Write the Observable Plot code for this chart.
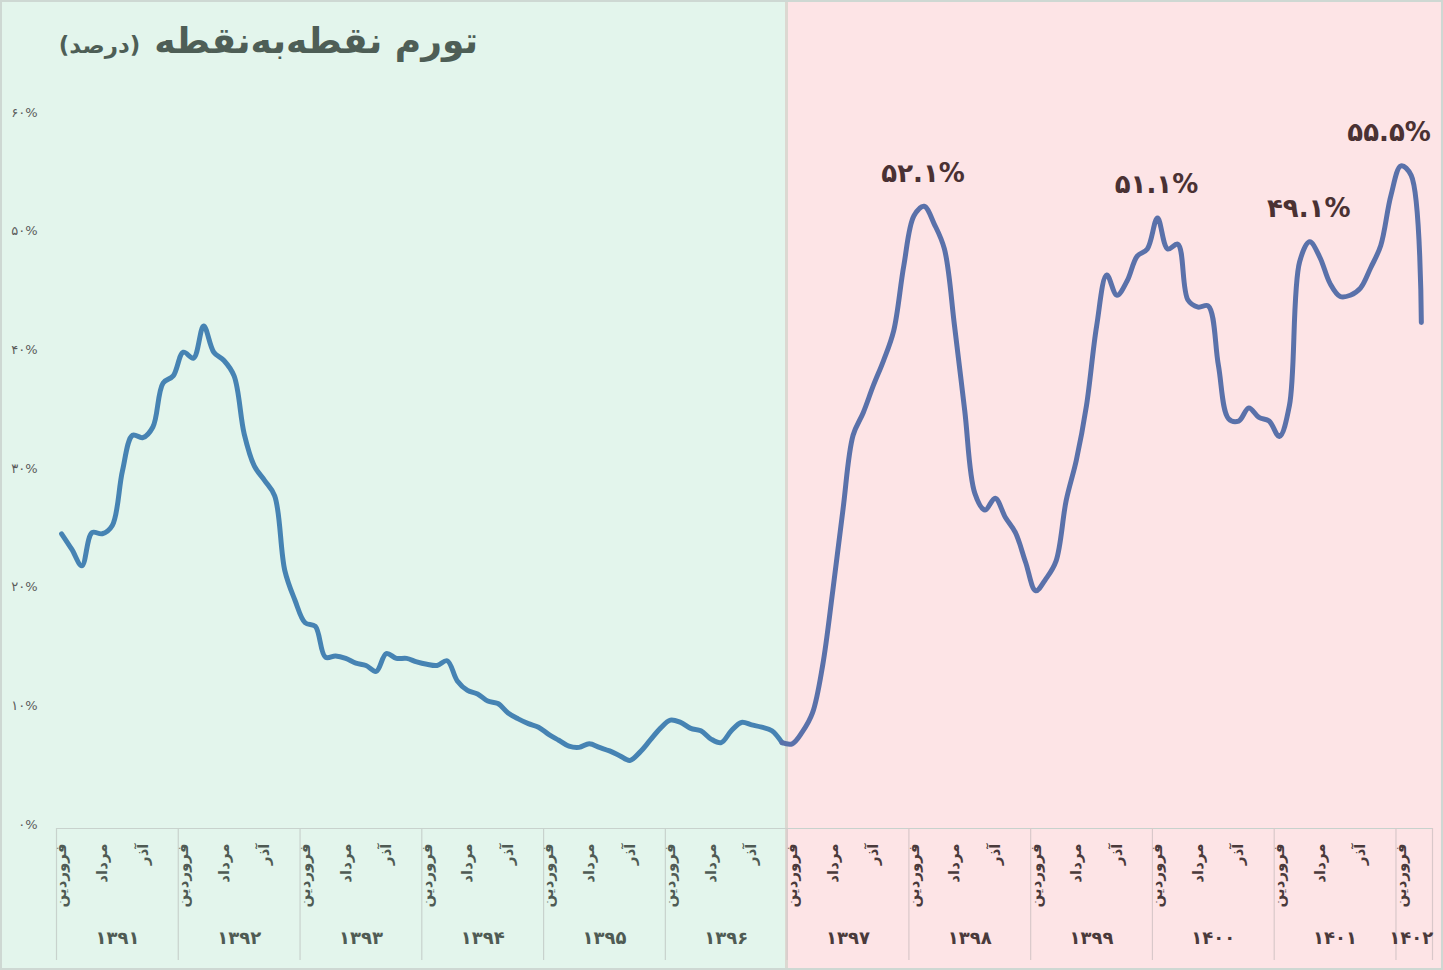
<!DOCTYPE html>
<html>
<head>
<meta charset="utf-8">
<script src="https://cdn.jsdelivr.net/npm/d3@7"></script>
<script src="https://cdn.jsdelivr.net/npm/@observablehq/plot@0.6"></script>
<style>
  html, body { margin: 0; padding: 0; background: #fff; }
  #wrap { position: relative; width: 1443px; height: 970px; overflow: hidden; font-family: "DejaVu Sans", sans-serif; }
  #title { position: absolute; top: 20px; left: 0; width: 478px; direction: rtl; text-align: right; font-weight: bold; color: #4e5e56; white-space: nowrap; z-index: 2; }
  #title .big { font-size: 36px; }
  #title .small { font-size: 23px; margin-right: 14px; }
  #frame { position: absolute; left: 0; top: 0; width: 1443px; height: 970px; box-sizing: border-box; border: 2px solid #ced8d3; pointer-events: none; }
</style>
</head>
<body>
<div id="wrap">
  <div id="title"><span class="big">تورم نقطه‌به‌نقطه</span><span class="small">(درصد)</span></div>
</div>
<script>
// ---- data ----
const years = [1391, 1392, 1393, 1394, 1395, 1396, 1397, 1398, 1399, 1400, 1401, 1402];
const monthNames = ["فروردین", "اردیبهشت", "خرداد", "تیر", "مرداد", "شهریور", "مهر", "آبان", "آذر", "دی", "بهمن", "اسفند"];
const labeledMonths = [0, 4, 8];
const yTicks = [0, 10, 20, 30, 40, 50, 60];
// point-to-point inflation (%), monthly from Farvardin 1391 to Khordad 1402
const inflation = [
  24.5, 23.2, 21.8, 24.6, 24.5, 25.2, 29.8, 32.8, 32.6, 33.5, 37.2, 37.8,
  39.8, 39.3, 42.0, 39.8, 39.1, 37.8, 32.9, 30.2, 29.0, 27.7, 21.4, 18.9,
  17.0, 16.7, 14.1, 14.2, 14.0, 13.6, 13.4, 12.9, 14.4, 14.0, 14.0, 13.7,
  13.5, 13.4, 13.8, 12.1, 11.3, 11.0, 10.4, 10.2, 9.4, 8.9, 8.5, 8.2,
  7.6, 7.1, 6.6, 6.5, 6.8, 6.5, 6.2, 5.8, 5.4, 6.1, 7.1, 8.1,
  8.8, 8.6, 8.1, 7.9, 7.2, 6.9, 7.9, 8.6, 8.4, 8.2, 7.9, 6.9,
  6.8, 7.8, 9.4, 13.4, 19.7, 26.5, 32.8, 34.7, 37.0, 39.1, 41.6, 47.1,
  51.3, 52.1, 50.6, 48.5, 42.0, 34.9, 27.9, 26.5, 27.5, 25.9, 24.6, 22.1,
  19.7, 20.7, 22.2, 27.3, 30.7, 35.3, 42.0, 46.3, 44.6, 45.8, 47.9, 48.5,
  51.1, 48.5, 48.9, 44.2, 43.6, 43.7, 38.7, 34.2, 34.0, 35.1, 34.3, 34.0,
  32.7, 35.3, 47.4, 49.1, 47.8, 45.6, 44.5, 44.6, 45.2, 46.9, 48.8, 53.0,
  55.5, 54.7, 42.3
];
const splitYear = 1397;          // background / colour change
const peakIdx = [85, 108, 123, 132];

// ---- helpers ----
const fa = s => String(s).replace(/\d/g, d => "۰۱۲۳۴۵۶۷۸۹"[d]);
const data = inflation.map((v, i) => ({i, v, year: years[Math.floor(i / 12)], m: i % 12}));
const splitI = (splitYear - years[0]) * 12;
const leftPart = data.filter(d => d.i <= splitI - 1);
const rightPart = data.filter(d => d.i >= splitI - 1);
const monthTicks = data.filter(d => labeledMonths.includes(d.m));
const n = inflation.length;
const xEnd = n + 0.1;   // the chart area runs a little past the last month
const yearBounds = years.map((y, k) => k * 12 - 0.5).concat([xEnd]);
const yearCenters = years.map((y, k) => ({year: y, x: (k * 12 - 0.5 + Math.min((k + 1) * 12, n) - 0.5) / 2, k}));
const peaks = peakIdx.map(i => ({i, v: inflation[i], label: fa(inflation[i].toFixed(1)) + "%"}));
const innerPeaks = peaks.filter(p => p.i < n - 5);
const edgePeaks = peaks.filter(p => p.i >= n - 5);

const H = 970, W = 1443;
const yScale = Plot.scale({y: {domain: [0, 60], range: [H - 146, 112]}});
const ruleTop = yScale.invert(828), ruleBottom = yScale.invert(960);

const green = "#e3f5ec", pink = "#fde4e6";
const leftTxt = "#4f5b54", rightTxt = "#4a3a3b";
const peakStyle = {x: "i", y: "v", text: "label", dy: -33, fontSize: 26, fontWeight: "bold", fill: "#4a3133"};

const plot = Plot.plot({
  width: W, height: H,
  marginLeft: 56, marginRight: 11, marginTop: 112, marginBottom: 146,
  style: {background: "transparent", overflow: "visible", fontFamily: "DejaVu Sans", fontSize: "13px", color: "#5b5b5b"},
  x: {domain: [-0.5, xEnd], axis: null},
  y: {domain: [0, 60], ticks: yTicks, tickFormat: d => fa(d) + "%", tickSize: 0, tickPadding: 19, label: null},
  marks: [
    Plot.ruleY([0], {dy: 4, stroke: "#c8d2cd", strokeWidth: 1.2}),
    Plot.ruleX(yearBounds, {y1: ruleTop, y2: ruleBottom, stroke: d => d >= splitI - 0.5 ? "#d9c8ca" : "#c8d2cd", strokeWidth: 1.2}),
    Plot.line(leftPart, {x: "i", y: "v", stroke: "#4683b3", strokeWidth: 5, curve: "catmull-rom", strokeLinecap: "round", strokeLinejoin: "round"}),
    Plot.line(rightPart, {x: "i", y: "v", stroke: "#5a71aa", strokeWidth: 5, curve: "catmull-rom", strokeLinecap: "round", strokeLinejoin: "round"}),
    Plot.text(monthTicks, {x: "i", frameAnchor: "bottom", dy: 19, text: d => monthNames[d.m], rotate: -90, textAnchor: "end", lineAnchor: "middle", fontSize: 15, fontWeight: "bold", fill: d => d.i >= splitI ? rightTxt : leftTxt}),
    Plot.text(yearCenters, {x: "x", frameAnchor: "bottom", dy: 119, text: d => fa(d.year), fontSize: 18, fontWeight: "bold", fill: d => d.year >= splitYear ? rightTxt : leftTxt}),
    Plot.text(innerPeaks, {...peakStyle, dx: -1}),
    Plot.text(edgePeaks, {...peakStyle, dx: -12})
  ]
});

const wrap = document.getElementById("wrap");
wrap.appendChild(plot);
const bx = plot.scale("x").apply(splitI - 0.5);
wrap.style.background = `linear-gradient(to right, ${green} 0px, ${green} ${bx - 2}px, #dcd8d1 ${bx - 2}px, #dcd8d1 ${bx + 1.5}px, ${pink} ${bx + 1.5}px, ${pink} 100%)`;
plot.style.position = "absolute";
plot.style.left = "0px";
plot.style.top = "0px";
const fr = document.createElement("div");
fr.id = "frame";
wrap.appendChild(fr);
</script>
</body>
</html>
